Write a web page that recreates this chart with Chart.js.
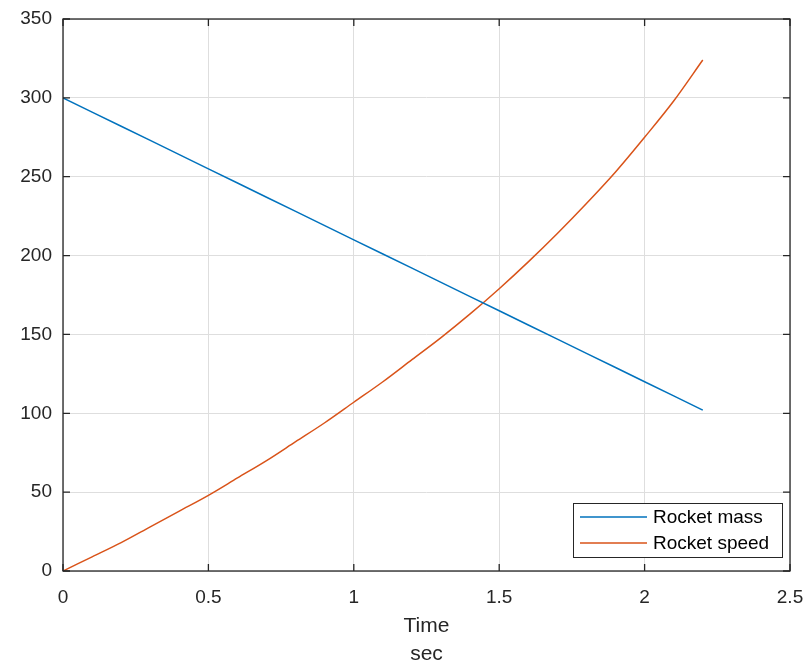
<!DOCTYPE html>
<html>
<head>
<meta charset="utf-8">
<script src="https://cdn.jsdelivr.net/npm/chart.js@4"></script>
<style>
html,body{margin:0;padding:0;background:#fff;overflow:hidden;}
#wrap{width:810px;height:668px;}
</style>
</head>
<body>
<div id="wrap"><canvas id="c" width="810" height="668"></canvas></div>
<script>
// Data
const timeValues = [0,0.1,0.2,0.3,0.4,0.5,0.6,0.7,0.8,0.9,1.0,1.1,1.2,1.3,1.4,1.5,1.6,1.7,1.8,1.9,2.0,2.1,2.2];
const rocketMass = [300,291,282,273,264,255,246,237,228,219,210,201,192,183,174,165,156,147,138,129,120,111,102];
const rocketSpeed = [0,9,18,28,38,48,59,70,82,94,107,120,134,148,163,179,196,214,233,253,275,298,324];
const seriesLabels = ['Rocket mass','Rocket speed'];
const xTickValues = [0,0.5,1,1.5,2,2.5];
const yTickValues = [0,50,100,150,200,250,300,350];
const xTitle = ['Time','sec'];

const COLORS = ['#0072BD','#D95319'];
const AXIS = '#262626';
const FONT = '"Liberation Sans", Arial, Helvetica, sans-serif';

function pts(ys){ return timeValues.map((t,i)=>({x:t,y:ys[i]})); }

const boxPlugin = {
  id:'boxPlugin',
  beforeDraw(chart){
    const ctx = chart.ctx;
    ctx.save(); ctx.fillStyle='#fff'; ctx.fillRect(0,0,chart.width,chart.height); ctx.restore();
  },
  afterDatasetsDraw(chart){
    const {ctx, chartArea:a, scales:{x,y}} = chart;
    ctx.save();
    ctx.strokeStyle = AXIS; ctx.lineWidth = 1.3;
    ctx.strokeRect(a.left, a.top, a.right-a.left, a.bottom-a.top);
    const L = 7;
    ctx.beginPath();
    xTickValues.forEach(v=>{
      const px = x.getPixelForValue(v);
      ctx.moveTo(px,a.bottom); ctx.lineTo(px,a.bottom-L);
      ctx.moveTo(px,a.top); ctx.lineTo(px,a.top+L);
    });
    yTickValues.forEach(v=>{
      const py = y.getPixelForValue(v);
      ctx.moveTo(a.left,py); ctx.lineTo(a.left+L,py);
      ctx.moveTo(a.right,py); ctx.lineTo(a.right-L,py);
    });
    ctx.stroke();

    // legend
    const lx=573, ly=503, lw=209, lh=54;
    ctx.fillStyle='#fff';
    ctx.fillRect(lx,ly,lw,lh);
    ctx.lineWidth=1; ctx.strokeStyle=AXIS;
    ctx.strokeRect(lx+0.5,ly+0.5,lw,lh);
    ctx.font = '19px '+FONT;
    ctx.textBaseline='middle'; ctx.textAlign='left';
    chart.data.datasets.forEach((ds,i)=>{
      const cy = ly + 14 + i*26;
      ctx.strokeStyle = ds.borderColor; ctx.lineWidth=1.5;
      ctx.beginPath(); ctx.moveTo(580,cy); ctx.lineTo(647,cy); ctx.stroke();
      ctx.fillStyle = '#000';
      ctx.fillText(ds.label, 653, cy+1);
    });
    ctx.restore();
  }
};

new Chart(document.getElementById('c'), {
  type:'line',
  data:{
    datasets:[
      {label:seriesLabels[0], data:pts(rocketMass), borderColor:COLORS[0], borderWidth:1.5, pointRadius:0, tension:0, fill:false},
      {label:seriesLabels[1], data:pts(rocketSpeed), borderColor:COLORS[1], borderWidth:1.5, pointRadius:0, cubicInterpolationMode:'monotone', fill:false}
    ]
  },
  options:{
    responsive:false, animation:false, devicePixelRatio:1,
    layout:{padding:{top:19,right:20,left:0,bottom:0}},
    plugins:{legend:{display:false}, tooltip:{enabled:false}},
    scales:{
      x:{
        type:'linear', min:0, max:2.5,
        afterBuildTicks(s){ s.ticks = xTickValues.map(v=>({value:v})); },
        afterFit(s){ s.height = 97; s.paddingRight = 0; s.paddingLeft = 0; },
        border:{display:false},
        grid:{color:'#dedede', lineWidth:1, drawTicks:false},
        ticks:{color:AXIS, padding:15, font:{size:19, family:FONT}, maxRotation:0, callback:v=>String(v)},
        title:{display:true, text:xTitle, color:AXIS, font:{size:21, family:FONT, lineHeight:'28px'}, padding:{top:0,bottom:0}}
      },
      y:{
        type:'linear', min:0, max:350,
        afterBuildTicks(s){ s.ticks = yTickValues.map(v=>({value:v})); },
        afterFit(s){ s.width = 63; s.paddingTop = 0; s.paddingBottom = 0; },
        border:{display:false},
        grid:{color:'#dedede', lineWidth:1, drawTicks:false},
        ticks:{color:AXIS, padding:11, font:{size:19, family:FONT}, callback:v=>String(v)}
      }
    }
  },
  plugins:[boxPlugin]
});
</script>
</body>
</html>
